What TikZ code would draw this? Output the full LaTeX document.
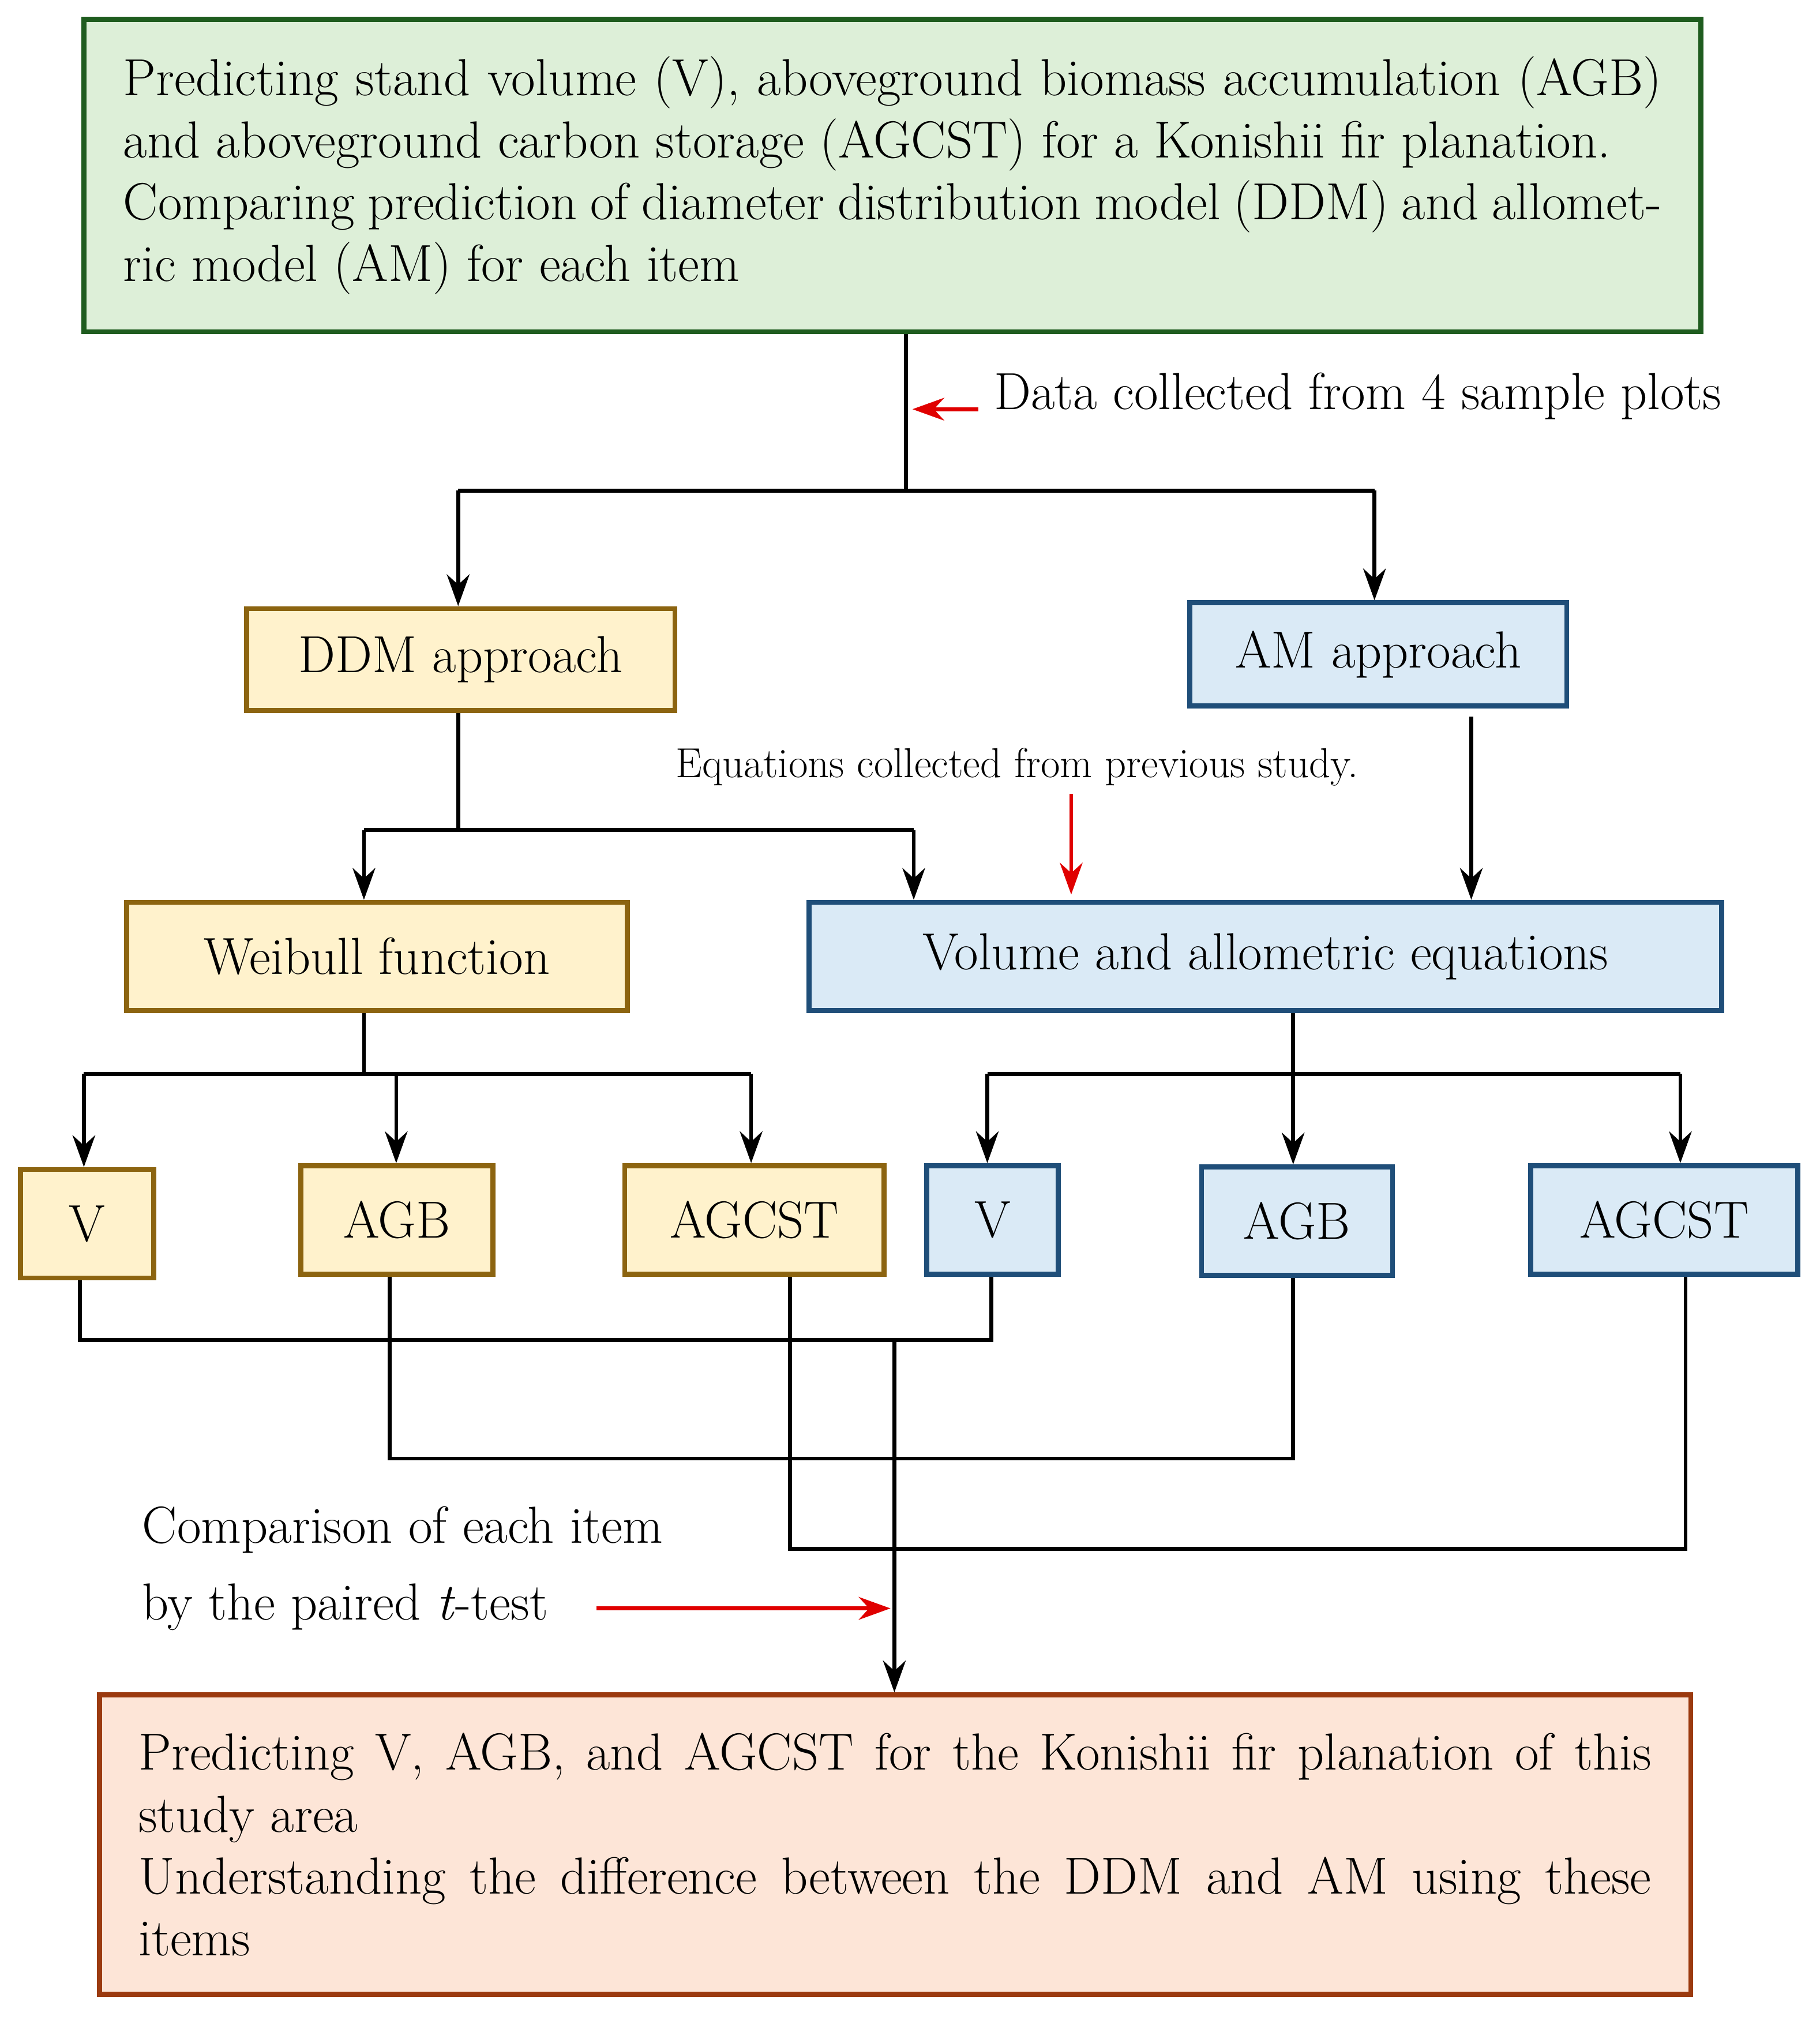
\documentclass[tikz,border=0pt]{standalone}
\usetikzlibrary{arrows.meta}
\definecolor{gfill}{HTML}{DDEFD8}\definecolor{gdraw}{HTML}{1F5C1F}
\definecolor{yfill}{HTML}{FFF2CC}\definecolor{ydraw}{HTML}{8C6410}
\definecolor{bfill}{HTML}{DAEAF6}\definecolor{bdraw}{HTML}{1F4E79}
\definecolor{ofill}{HTML}{FDE5D7}\definecolor{odraw}{HTML}{9B3A0F}
\definecolor{rarr}{HTML}{E00000}
\begin{document}
\begin{tikzpicture}[x=0.02cm,y=-0.02cm,
  box/.style={draw,line width=2.2pt,inner sep=0pt,font=\fontsize{23}{27}\selectfont},
  ybox/.style={box,fill=yfill,draw=ydraw},
  bbox/.style={box,fill=bfill,draw=bdraw},
  con/.style={line width=1.7pt},
  arr/.style={con,-{Stealth[length=14pt,width=10pt]}},
  rar/.style={line width=1.7pt,draw=rarr,-{Stealth[length=14pt,width=10pt]}},
  txt/.style={font=\fontsize{23}{27.3}\selectfont,inner sep=0pt}]
\useasboundingbox (0,0) rectangle (1410,1568);
\node[box,fill=gfill,draw=gdraw,minimum width=1253*0.02cm,minimum height=242*0.02cm] (top) at (691.5,136) {};
\node[txt,text width=1192*0.02cm,align=justify] at (top) {Predicting stand volume (V), aboveground biomass accumulation (AGB) and aboveground carbon storage (AGCST) for a Konishii fir planation.\\ Comparing prediction of diameter distribution model (DDM) and allometric model (AM) for each item};
\coordinate (j1) at (702,380);
\draw[con] (top.south -| j1) -- (j1);
\coordinate (ra1) at (758,317); \coordinate (ra2) at (707,317);
\draw[rar] (ra1) -- (ra2);
\node[txt,anchor=west] (dtxt) at (770,307) {Data collected from 4 sample plots};
\node[ybox,minimum width=332*0.02cm,minimum height=79*0.02cm] (ddm) at (357,511) {DDM approach};
\node[bbox,minimum width=292*0.02cm,minimum height=80*0.02cm] (am) at (1068,507) {AM approach};
\coordinate (l1) at (355,380); \coordinate (r1) at (1065,380);
\draw[con] (l1) -- (r1);
\draw[arr] (l1) -- (ddm.north -| l1);
\draw[arr] (r1) -- (r1 |- am.north);
\node[ybox,minimum width=388*0.02cm,minimum height=84*0.02cm] (wb) at (292,741) {Weibull function};
\node[bbox,minimum width=707*0.02cm,minimum height=84*0.02cm] (ve) at (980.5,741) {Volume and allometric equations};
\coordinate (d1) at (355,643); \coordinate (d2) at (282,643); \coordinate (d3) at (708,643);
\draw[con] (ddm.south -| d1) -- (d1);
\draw[con] (d2) -- (d3);
\draw[arr] (d2) -- (d2 |- wb.north);
\draw[arr] (d3) -- (d3 |- ve.north);
\node[font=\fontsize{18.5}{22}\selectfont,inner sep=0pt] (eq) at (788,594) {Equations collected from previous study.};
\coordinate (e1) at (830,615); \coordinate (e2) at (830,693);
\draw[rar] (e1) -- (e2);
\coordinate (a1) at (1140,555);
\draw[arr] (a1) -- (a1 |- ve.north);
% third row
\node[ybox,minimum width=103*0.02cm,minimum height=84*0.02cm] (v1) at (67.5,948) {V};
\node[ybox,minimum width=149*0.02cm,minimum height=84*0.02cm] (g1) at (307.5,945) {AGB};
\node[ybox,minimum width=201*0.02cm,minimum height=84*0.02cm] (c1) at (584.5,945) {AGCST};
\node[bbox,minimum width=102*0.02cm,minimum height=84*0.02cm] (v2) at (769,945) {V};
\node[bbox,minimum width=148*0.02cm,minimum height=84*0.02cm] (g2) at (1005,946) {AGB};
\node[bbox,minimum width=207*0.02cm,minimum height=84*0.02cm] (c2) at (1289.5,945) {AGCST};
\coordinate (w0) at (282,832); \coordinate (w1) at (65,832); \coordinate (w2) at (307,832); \coordinate (w3) at (582,832);
\draw[con] (wb.south -| w0) -- (w0);
\draw[con] (w1) -- (w3);
\draw[arr] (w1) -- (w1 |- v1.north);
\draw[arr] (w2) -- (w2 |- g1.north);
\draw[arr] (w3) -- (w3 |- c1.north);
\coordinate (u0) at (1002,832); \coordinate (u1) at (765,832); \coordinate (u3) at (1302,832);
\draw[arr] (ve.south -| u0) -- (u0 |- g2.north);
\draw[con] (u1) -- (u3);
\draw[arr] (u1) -- (u1 |- v2.north);
\draw[arr] (u3) -- (u3 |- c2.north);
% comparison lines
\coordinate (p1) at (62,1038); \coordinate (p2) at (768,1038);
\draw[con] (v1.south -| p1) -- (p1) -- (p2) -- (v2.south -| p2);
\coordinate (q1) at (302,1130); \coordinate (q2) at (1002,1130);
\draw[con] (g1.south -| q1) -- (q1) -- (q2) -- (g2.south -| q2);
\coordinate (s1) at (612,1200); \coordinate (s2) at (1306,1200);
\draw[con] (c1.south -| s1) -- (s1) -- (s2) -- (c2.south -| s2);
\node[box,fill=ofill,draw=odraw,minimum width=1233*0.02cm,minimum height=232*0.02cm] (bot) at (693.5,1429) {};
\node[txt,text width=1172*0.02cm,align=justify] at (bot) {Predicting V, AGB, and AGCST for the Konishii fir planation of this study area\\ Understanding the difference between the DDM and AM using these items};
\coordinate (m0) at (693,1038);
\draw[arr] (m0) -- (m0 |- bot.north);
\node[txt,anchor=west] (cmp) at (110,1185) {Comparison of each item};
\node[txt,anchor=west] (cmp2) at (110,1245) {by the paired \textit{t}-test};
\coordinate (t1) at (462,1246); \coordinate (t2) at (690,1246);
\draw[rar] (t1) -- (t2);
\end{tikzpicture}
\end{document}
